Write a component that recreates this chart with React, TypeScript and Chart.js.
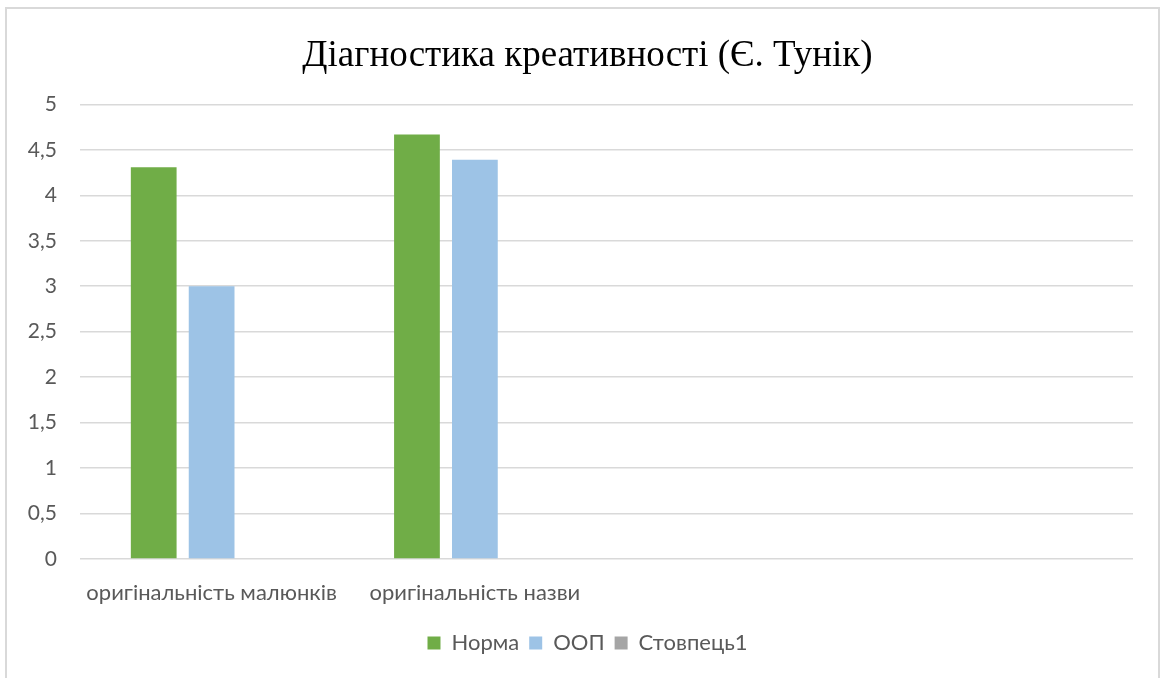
import React, { useEffect, useRef } from "react";
import { Chart, registerables } from "chart.js";

Chart.register(...registerables);

const categories = ["оригінальність малюнків", "оригінальність назви", "", ""];
const normaValues = [4.31, 4.67, null, null];
const oopValues = [3.0, 4.39, null, null];
const stovpetsValues = [null, null, null, null];
const seriesNames = ["Норма", "ООП", "Стовпець1"];
const titleText = "Діагностика креативності (Є. Тунік)";

const FONT = "Lato, 'Noto Sans', sans-serif";

// centre the title and legend over the whole frame rather than the area left of the right padding
const recentre = {
  id: "recentre",
  afterLayout(chart: any) {
    const shift = 42;
    if (chart.legend) chart.legend.left = shift;
    if (chart.titleBlock) chart.titleBlock.left = shift;
  },
};

export default function App() {
  const ref = useRef<HTMLCanvasElement | null>(null);
  useEffect(() => {
    if (!ref.current) return;
    const chart = new Chart(ref.current, {
      type: "bar",
      data: {
        labels: categories,
        datasets: [
          { label: seriesNames[0], data: normaValues, backgroundColor: "#70AD47" },
          { label: seriesNames[1], data: oopValues, backgroundColor: "#9DC3E6" },
          { label: seriesNames[2], data: stovpetsValues, backgroundColor: "#A5A5A5" },
        ],
      },
      plugins: [recentre],
      options: {
        animation: false,
        responsive: false,
        maintainAspectRatio: false,
        layout: { padding: { left: 0, right: 35, top: 0, bottom: 14 } },
        datasets: { bar: { categoryPercentage: 0.66, barPercentage: 0.79 } },
        plugins: {
          title: {
            display: true,
            text: titleText,
            color: "#000000",
            font: { family: "'Liberation Serif', 'Times New Roman', serif", size: 37, weight: "normal" },
            padding: { top: 34, bottom: 26 },
          },
          legend: {
            position: "bottom",
            labels: {
              boxWidth: 13,
              boxHeight: 13,
              padding: 10,
              color: "#595959",
              font: { family: FONT, size: 22 },
            },
          },
          tooltip: { enabled: false },
        },
        scales: {
          x: {
            grid: { display: false, drawTicks: false },
            border: { display: false },
            ticks: {
              color: "#595959",
              font: { family: FONT, size: 22 },
              padding: 21,
              maxRotation: 0,
              autoSkip: false,
            },
            afterFit: (s: any) => { s.height = 63; },
          },
          y: {
            min: 0,
            max: 5,
            grid: { color: "#D9D9D9", lineWidth: 1.5, drawTicks: false },
            border: { display: false },
            ticks: {
              stepSize: 0.5,
              color: "#595959",
              padding: 23,
              font: { family: FONT, size: 21 },
              callback: (v: any) => String(v).replace(".", ","),
            },
            afterFit: (s: any) => { s.width = 80; },
          },
        },
      },
    });
    return () => chart.destroy();
  }, []);

  return (
    <div style={{ position: "fixed", left: 0, top: 0, width: 1168, height: 678, background: "#ffffff", overflow: "hidden" }}>
      <div style={{ position: "absolute", left: 5, top: 7, width: 1155, height: 700, border: "2px solid #D9D9D9", boxSizing: "border-box" }} />
      <canvas ref={ref} width={1168} height={678} style={{ position: "absolute", left: 0, top: 0, width: 1168, height: 678 }} />
    </div>
  );
}
